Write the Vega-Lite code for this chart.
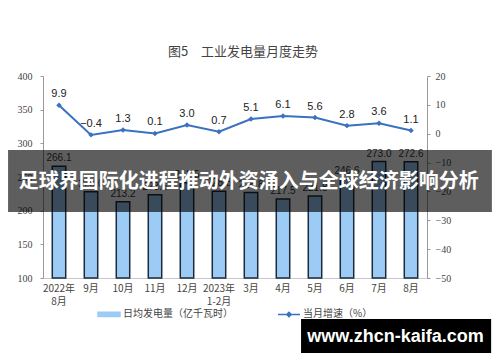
{
  "$schema": "https://vega.github.io/schema/vega-lite/v6.json",
  "width": 384,
  "height": 202,
  "autosize": "none",
  "padding": {"left": 43, "top": 76, "right": 73, "bottom": 84},
  "background": "white",
  "title": {
    "text": "图5　工业发电量月度走势",
    "font": "Noto Sans CJK SC",
    "fontSize": 13,
    "fontWeight": "normal",
    "color": "#444444",
    "anchor": "middle",
    "dx": 8,
    "offset": 12
  },
  "datasets": {
    "main": [
      {"month": "2022年|8月", "gen": 266.1, "growth": 9.9},
      {"month": "9月", "gen": 228.0, "growth": -0.4},
      {"month": "10月", "gen": 213.2, "growth": 1.3},
      {"month": "11月", "gen": 223.6, "growth": 0.1},
      {"month": "12月", "gen": 241.5, "growth": 3.0},
      {"month": "2023年|1-2月", "gen": 228.8, "growth": 0.7},
      {"month": "3月", "gen": 226.8, "growth": 5.1},
      {"month": "4月", "gen": 217.5, "growth": 6.1},
      {"month": "5月", "gen": 221.8, "growth": 5.6},
      {"month": "6月", "gen": 246.6, "growth": 2.8},
      {"month": "7月", "gen": 273.0, "growth": 3.6},
      {"month": "8月", "gen": 272.6, "growth": 1.1}
    ],
    "banner": [
      {"x0": -0.091, "x1": 1.169, "y0": 0.327, "y1": 0.634, "tx": 0.536, "ty": 0.475, "label": "足球界国际化进程推动外资涌入与全球经济影响分析"}
    ],
    "mark": [
      {"x0": 0.672, "x1": 1.167, "y0": -0.371, "y1": -0.203, "tx": 0.918, "ty": -0.29, "label": "www.zhcn-kaifa.com"}
    ]
  },
  "layer": [
    {
      "layer": [
        {
          "data": {"name": "main"},
          "encoding": {
            "x": {
              "field": "month",
              "type": "nominal",
              "sort": null,
              "scale": {"paddingInner": 0, "paddingOuter": 0},
              "axis": {
                "title": null,
                "labelAngle": 0,
                "labelExpr": "split(datum.label, '|')",
                "labelFont": "Noto Sans CJK SC",
                "labelFontSize": 10,
                "labelColor": "#444444",
                "labelPadding": 5,
                "labelLineHeight": 13,
                "ticks": false,
                "domainColor": "#c8c8c8",
                "grid": false
              }
            },
            "y": {
              "field": "gen",
              "type": "quantitative",
              "scale": {"domain": [100, 400], "nice": false, "zero": false},
              "axis": {
                "title": null,
                "orient": "left",
                "values": [100, 150, 200, 250, 300, 350, 400],
                "labelFont": "Liberation Serif",
                "labelFontSize": 10,
                "labelColor": "#444444",
                "labelPadding": 8,
                "tickSize": 3,
                "tickColor": "#999999",
                "domainColor": "#999999",
                "grid": false
              }
            }
          },
          "layer": [
            {
              "mark": {"type": "bar", "width": {"band": 0.42}, "stroke": "#1e2b3a", "strokeWidth": 1.5},
              "encoding": {
                "y2": {"datum": 100},
                "color": {
                  "datum": "日均发电量（亿千瓦时）",
                  "scale": {"domain": ["日均发电量（亿千瓦时）", "当月增速（%）"], "range": ["#9ccbf6", "#3a72bf"]},
                  "legend": {
                    "title": null,
                    "orient": "none",
                    "legendX": 54,
                    "legendY": 226,
                    "direction": "horizontal",
                    "labelFont": "Noto Sans CJK SC",
                    "labelFontSize": 10,
                    "labelColor": "#444444",
                    "labelOffset": 2,
                    "columnPadding": 42,
                    "symbolSize": 484,
                    "encode": {
                      "symbols": {
                        "update": {
                          "shape": {"signal": "datum.value == '当月增速（%）' ? 'M-1,0H1M0,-0.2L0.2,0L0,0.2L-0.2,0Z' : 'M-1,-0.2H1V0.2H-1Z'"},
                          "stroke": {"signal": "datum.value == '当月增速（%）' ? '#3a72bf' : '#1e2b3a'"},
                          "fill": {"signal": "datum.value == '当月增速（%）' ? '#3a72bf' : '#9ccbf6'"},
                          "strokeWidth": {"value": 1.5}
                        }
                      }
                    }
                  }
                }
              }
            },
            {
              "mark": {"type": "text", "baseline": "bottom", "dy": -3, "font": "Liberation Sans", "fontSize": 10, "color": "#333333"},
              "encoding": {
                "text": {"field": "gen", "type": "quantitative", "format": ".1f"}
              }
            }
          ]
        },
        {
          "data": {"name": "main"},
          "encoding": {
            "x": {"field": "month", "type": "nominal", "sort": null},
            "y": {
              "field": "growth",
              "type": "quantitative",
              "scale": {"domain": [-50, 20], "nice": false, "zero": false},
              "axis": {
                "title": null,
                "orient": "right",
                "values": [-50, -40, -30, -20, -10, 0, 10, 20],
                "labelFont": "Liberation Serif",
                "labelFontSize": 10,
                "labelColor": "#444444",
                "labelPadding": 5,
                "tickSize": 3,
                "tickColor": "#999999",
                "domainColor": "#999999",
                "grid": false
              }
            }
          },
          "layer": [
            {
              "mark": {"type": "line", "strokeWidth": 2},
              "encoding": {
                "color": {
                  "datum": "当月增速（%）",
                  "legend": {
                    "title": null,
                    "orient": "none",
                    "legendX": 54,
                    "legendY": 226,
                    "direction": "horizontal",
                    "labelFont": "Noto Sans CJK SC",
                    "labelFontSize": 10,
                    "labelColor": "#444444",
                    "labelOffset": 2,
                    "columnPadding": 42,
                    "symbolSize": 484,
                    "encode": {
                      "symbols": {
                        "update": {
                          "shape": {"signal": "datum.value == '当月增速（%）' ? 'M-1,0H1M0,-0.2L0.2,0L0,0.2L-0.2,0Z' : 'M-1,-0.2H1V0.2H-1Z'"},
                          "stroke": {"signal": "datum.value == '当月增速（%）' ? '#3a72bf' : '#1e2b3a'"},
                          "fill": {"signal": "datum.value == '当月增速（%）' ? '#3a72bf' : '#9ccbf6'"},
                          "strokeWidth": {"value": 1.5}
                        }
                      }
                    }
                  }
                }
              }
            },
            {
              "mark": {"type": "point", "shape": "diamond", "filled": true, "size": 30, "opacity": 1},
              "encoding": {"color": {"datum": "当月增速（%）"}}
            },
            {
              "mark": {"type": "text", "baseline": "bottom", "dy": -6, "font": "Liberation Sans", "fontSize": 11, "color": "#222222"},
              "encoding": {
                "text": {"field": "growth", "type": "quantitative", "format": ".1f"}
              }
            }
          ]
        }
      ],
      "resolve": {"scale": {"y": "independent"}}
    },
    {
      "data": {"name": "banner"},
      "layer": [
        {
          "mark": {"type": "rect", "color": "#000000", "opacity": 0.63},
          "encoding": {
            "x": {"field": "x0", "type": "quantitative", "scale": {"domain": [0, 1], "nice": false, "zero": false}, "axis": null},
            "x2": {"field": "x1"},
            "y": {"field": "y0", "type": "quantitative", "scale": {"domain": [0, 1], "nice": false, "zero": false}, "axis": null},
            "y2": {"field": "y1"}
          }
        },
        {
          "mark": {"type": "text", "font": "Noto Sans CJK SC", "fontSize": 20, "fontWeight": "bold", "color": "#ffffff", "align": "center", "baseline": "middle"},
          "encoding": {
            "x": {"field": "tx", "type": "quantitative"},
            "y": {"field": "ty", "type": "quantitative"},
            "text": {"field": "label"}
          }
        }
      ]
    },
    {
      "data": {"name": "mark"},
      "layer": [
        {
          "mark": {"type": "rect", "color": "#000000", "opacity": 1},
          "encoding": {
            "x": {"field": "x0", "type": "quantitative", "scale": {"domain": [0, 1], "nice": false, "zero": false}, "axis": null},
            "x2": {"field": "x1"},
            "y": {"field": "y0", "type": "quantitative", "scale": {"domain": [0, 1], "nice": false, "zero": false}, "axis": null},
            "y2": {"field": "y1"}
          }
        },
        {
          "mark": {"type": "text", "font": "Liberation Sans", "fontSize": 18, "fontWeight": "bold", "color": "#ffffff", "align": "center", "baseline": "middle"},
          "encoding": {
            "x": {"field": "tx", "type": "quantitative"},
            "y": {"field": "ty", "type": "quantitative"},
            "text": {"field": "label"}
          }
        }
      ]
    }
  ],
  "resolve": {"scale": {"x": "independent", "y": "independent"}},
  "config": {
    "view": {"stroke": null},
    "axis": {"domainWidth": 1}
  }
}
